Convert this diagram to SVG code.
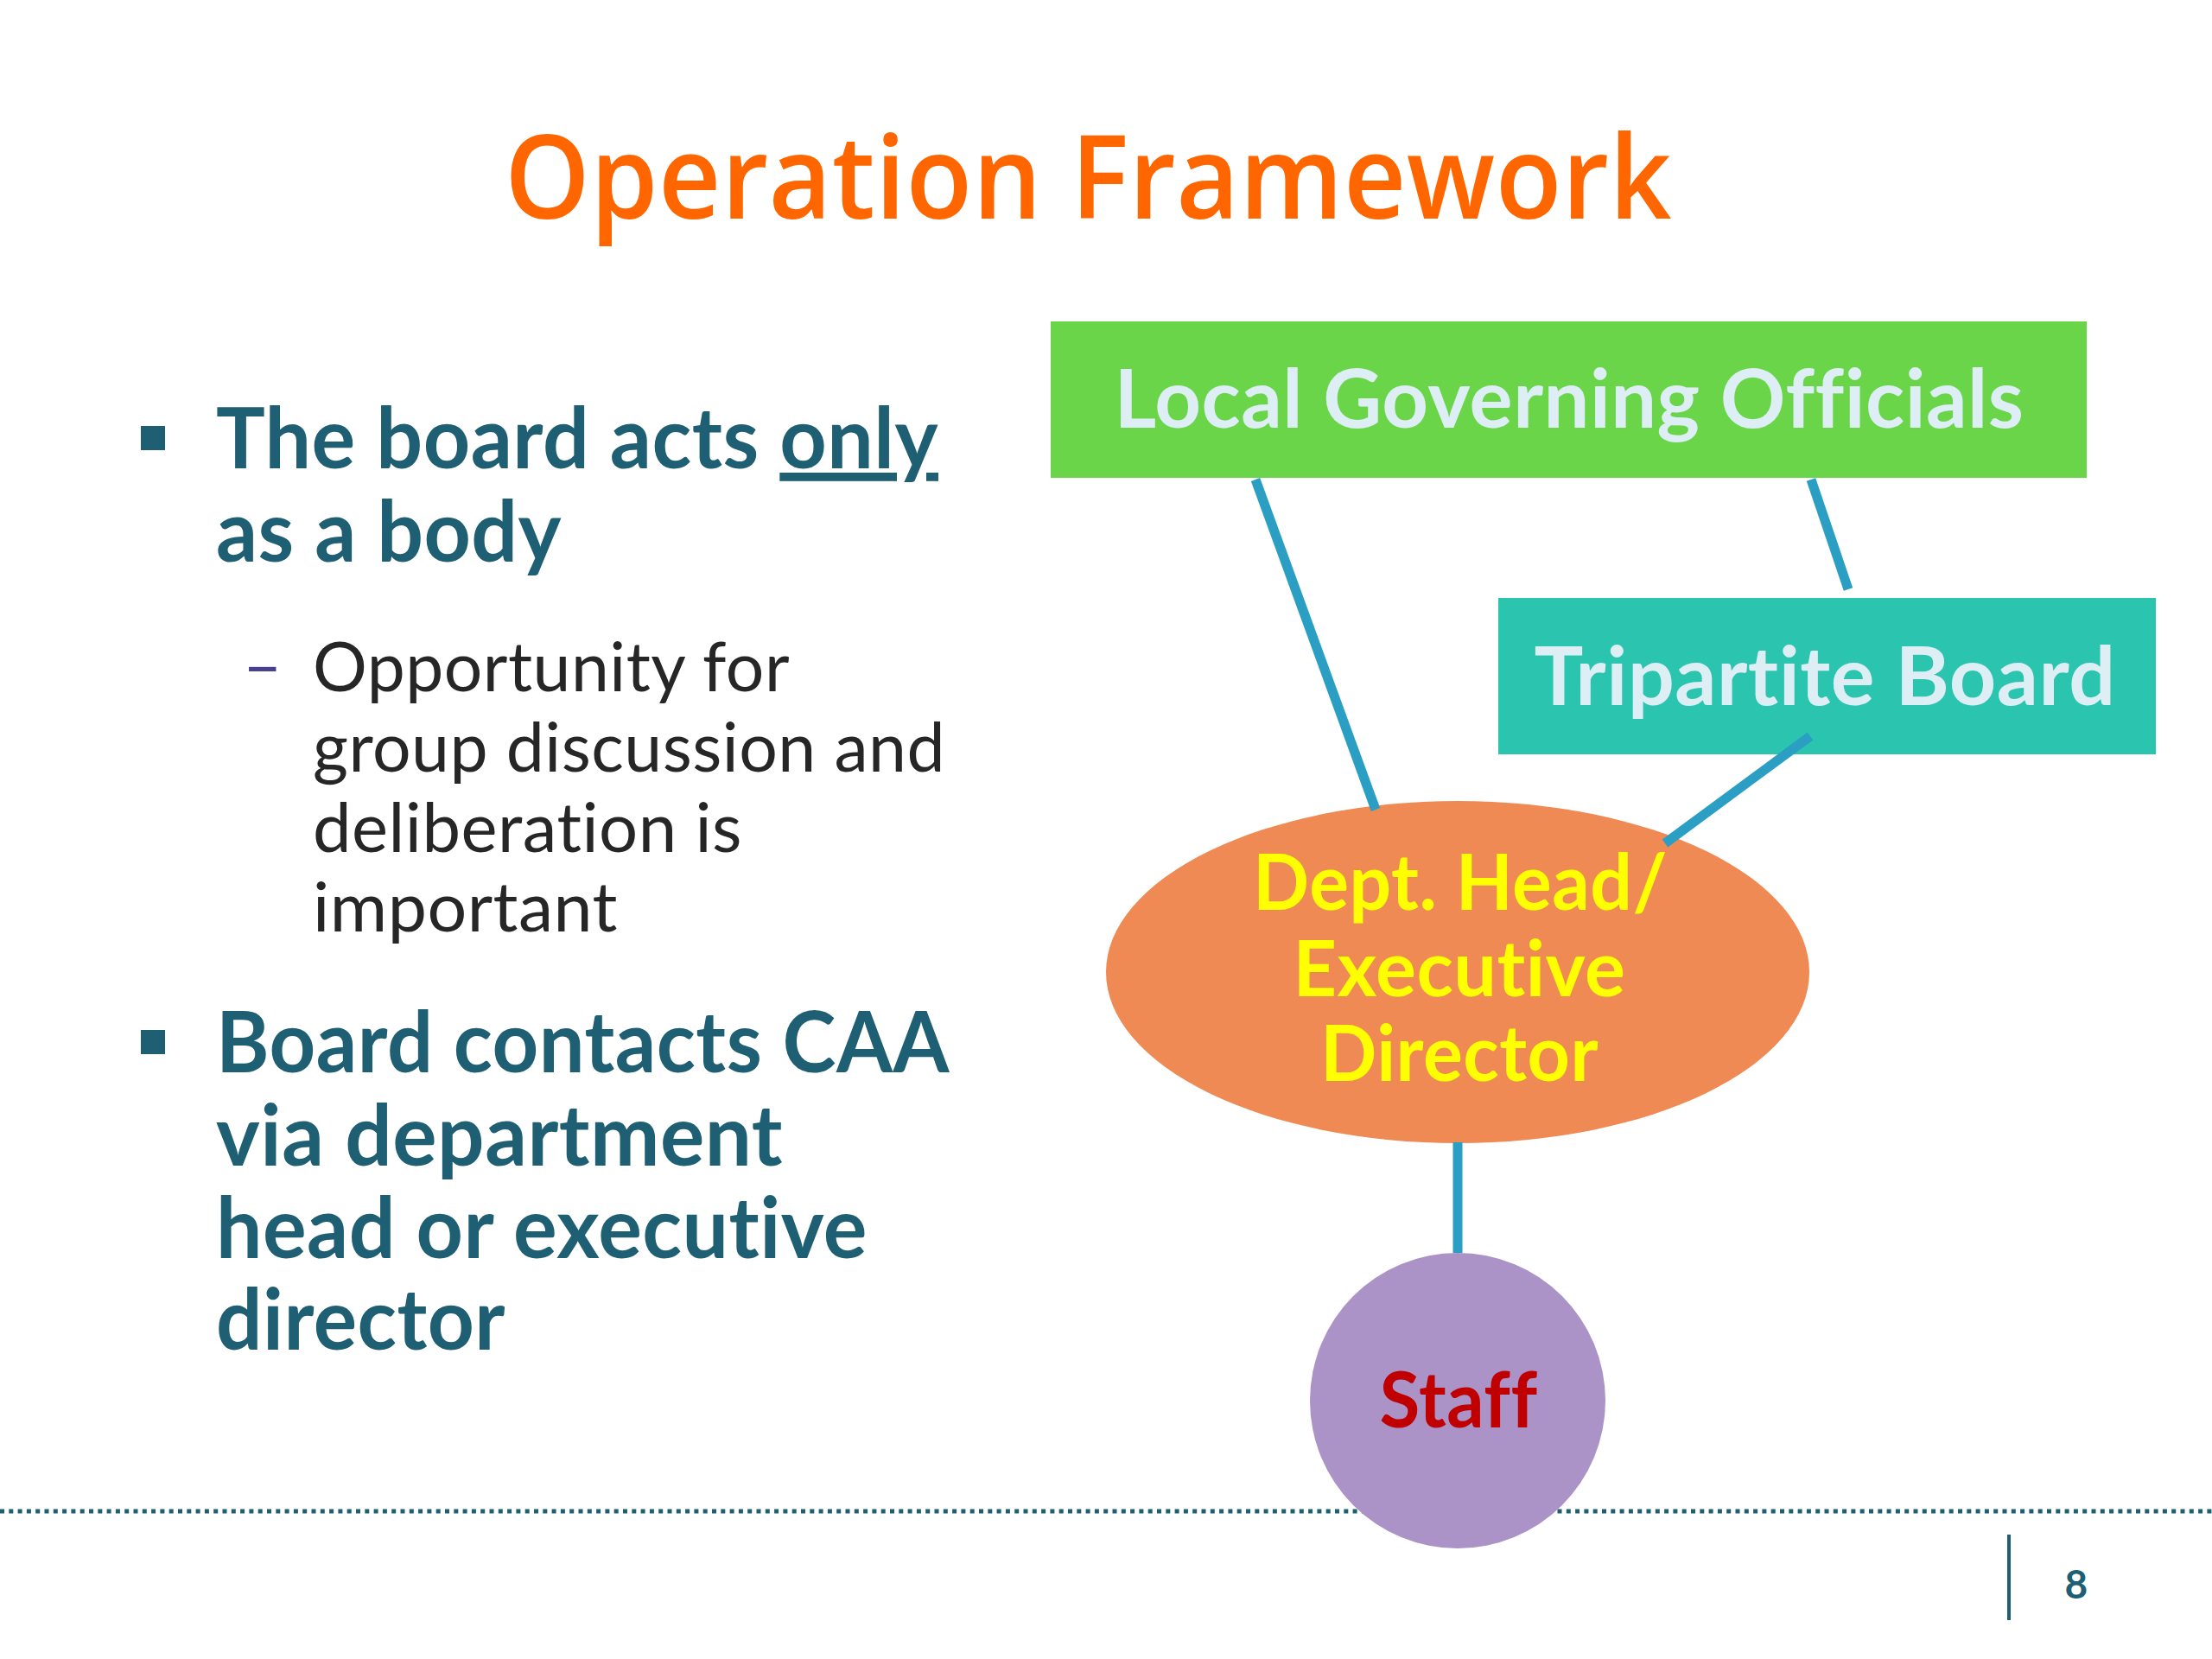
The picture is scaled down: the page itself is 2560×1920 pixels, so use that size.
<svg xmlns="http://www.w3.org/2000/svg" width="2560" height="1920" viewBox="0 0 2560 1920">
<style>
text{font-variant-ligatures:none;font-feature-settings:"liga" 0,"clig" 0,"dlig" 0,"calt" 0;letter-spacing:0.5px}
.title{font-family:"Open Sans","Liberation Sans",sans-serif;font-weight:600;fill:#FF6600;font-size:135px}
.b1{font-family:Lato,"Liberation Sans",sans-serif;font-weight:700;fill:#1F5F73;font-size:98px}
.b2{font-family:Lato,"Liberation Sans",sans-serif;font-weight:400;fill:#262626;font-size:80px}
.nt{font-family:Lato,"Liberation Sans",sans-serif;font-weight:700;text-anchor:middle}
.conn{stroke:#2B9FC3;stroke-width:11;fill:none}
</style>
<rect width="2560" height="1920" fill="#FFFFFF"/>
<text class="title" x="584" y="253" textLength="1351" lengthAdjust="spacingAndGlyphs">Operation Framework</text>
<g id="bullets">
<rect x="163" y="493" width="28" height="28" fill="#1F5F73"/>
<text class="b1" x="250" y="542" textLength="836" lengthAdjust="spacingAndGlyphs">The board acts <tspan text-decoration="underline">only</tspan></text>
<text class="b1" x="250" y="650" textLength="400" lengthAdjust="spacingAndGlyphs">as a body</text>
<text x="281" y="798" font-family="Lato,'Liberation Sans',sans-serif" font-size="80" fill="#4A4090" textLength="46" lengthAdjust="spacingAndGlyphs">–</text>
<text class="b2" x="362" y="800" textLength="552" lengthAdjust="spacingAndGlyphs">Opportunity for</text>
<text class="b2" x="362" y="893" textLength="732" lengthAdjust="spacingAndGlyphs">group discussion and</text>
<text class="b2" x="362" y="986" textLength="497" lengthAdjust="spacingAndGlyphs">deliberation is</text>
<text class="b2" x="362" y="1078" textLength="353" lengthAdjust="spacingAndGlyphs">important</text>
<rect x="163" y="1192" width="28" height="28" fill="#1F5F73"/>
<text class="b1" x="250" y="1241" textLength="849" lengthAdjust="spacingAndGlyphs">Board contacts CAA</text>
<text class="b1" x="250" y="1349" textLength="656" lengthAdjust="spacingAndGlyphs">via department</text>
<text class="b1" x="250" y="1456" textLength="754" lengthAdjust="spacingAndGlyphs">head or executive</text>
<text class="b1" x="250" y="1562" textLength="335" lengthAdjust="spacingAndGlyphs">director</text>
</g>
<line x1="0" y1="1749" x2="2560" y2="1749" stroke="#1F5F73" stroke-width="5" stroke-dasharray="5 5.3"/>
<g id="node-local">
<rect x="1216" y="372" width="1199" height="181" fill="#6BD54A"/>
<text class="nt" x="1816" y="495" font-size="93" fill="#DDEFF5" textLength="1053" lengthAdjust="spacingAndGlyphs">Local Governing Officials</text>
</g>
<g id="node-board">
<rect x="1734" y="692" width="761" height="181" fill="#2BC4AE"/>
<text class="nt" x="2112" y="816" font-size="93" fill="#DDEFF5" textLength="673" lengthAdjust="spacingAndGlyphs">Tripartite Board</text>
</g>
<g id="node-director">
<ellipse cx="1687" cy="1125" rx="407" ry="198" fill="#F08A54"/>
<text class="nt" x="1690" y="1053" font-size="89" fill="#FFFF00" textLength="480" lengthAdjust="spacingAndGlyphs">Dept. Head/</text>
<text class="nt" x="1689" y="1153" font-size="89" fill="#FFFF00" textLength="385" lengthAdjust="spacingAndGlyphs">Executive</text>
<text class="nt" x="1689" y="1251" font-size="89" fill="#FFFF00" textLength="322" lengthAdjust="spacingAndGlyphs">Director</text>
</g>
<g id="connectors">
<line class="conn" x1="1453" y1="555" x2="1592" y2="937"/>
<line class="conn" x1="2096" y1="555" x2="2139" y2="682"/>
<line class="conn" x1="2095" y1="852" x2="1927" y2="976"/>
<line class="conn" x1="1687" y1="1322" x2="1687" y2="1450"/>
</g>
<g id="node-staff">
<circle cx="1687" cy="1621" r="171" fill="#AB92C7"/>
<text class="nt" x="1688" y="1652" font-size="90" fill="#C00000" textLength="183" lengthAdjust="spacingAndGlyphs">Staff</text>
</g>
<g id="footer">
<line x1="2325" y1="1776" x2="2325" y2="1875" stroke="#1F5F73" stroke-width="4"/>
<text class="nt" x="2403" y="1850" font-size="46" fill="#1F5F73">8</text>
</g>
</svg>
